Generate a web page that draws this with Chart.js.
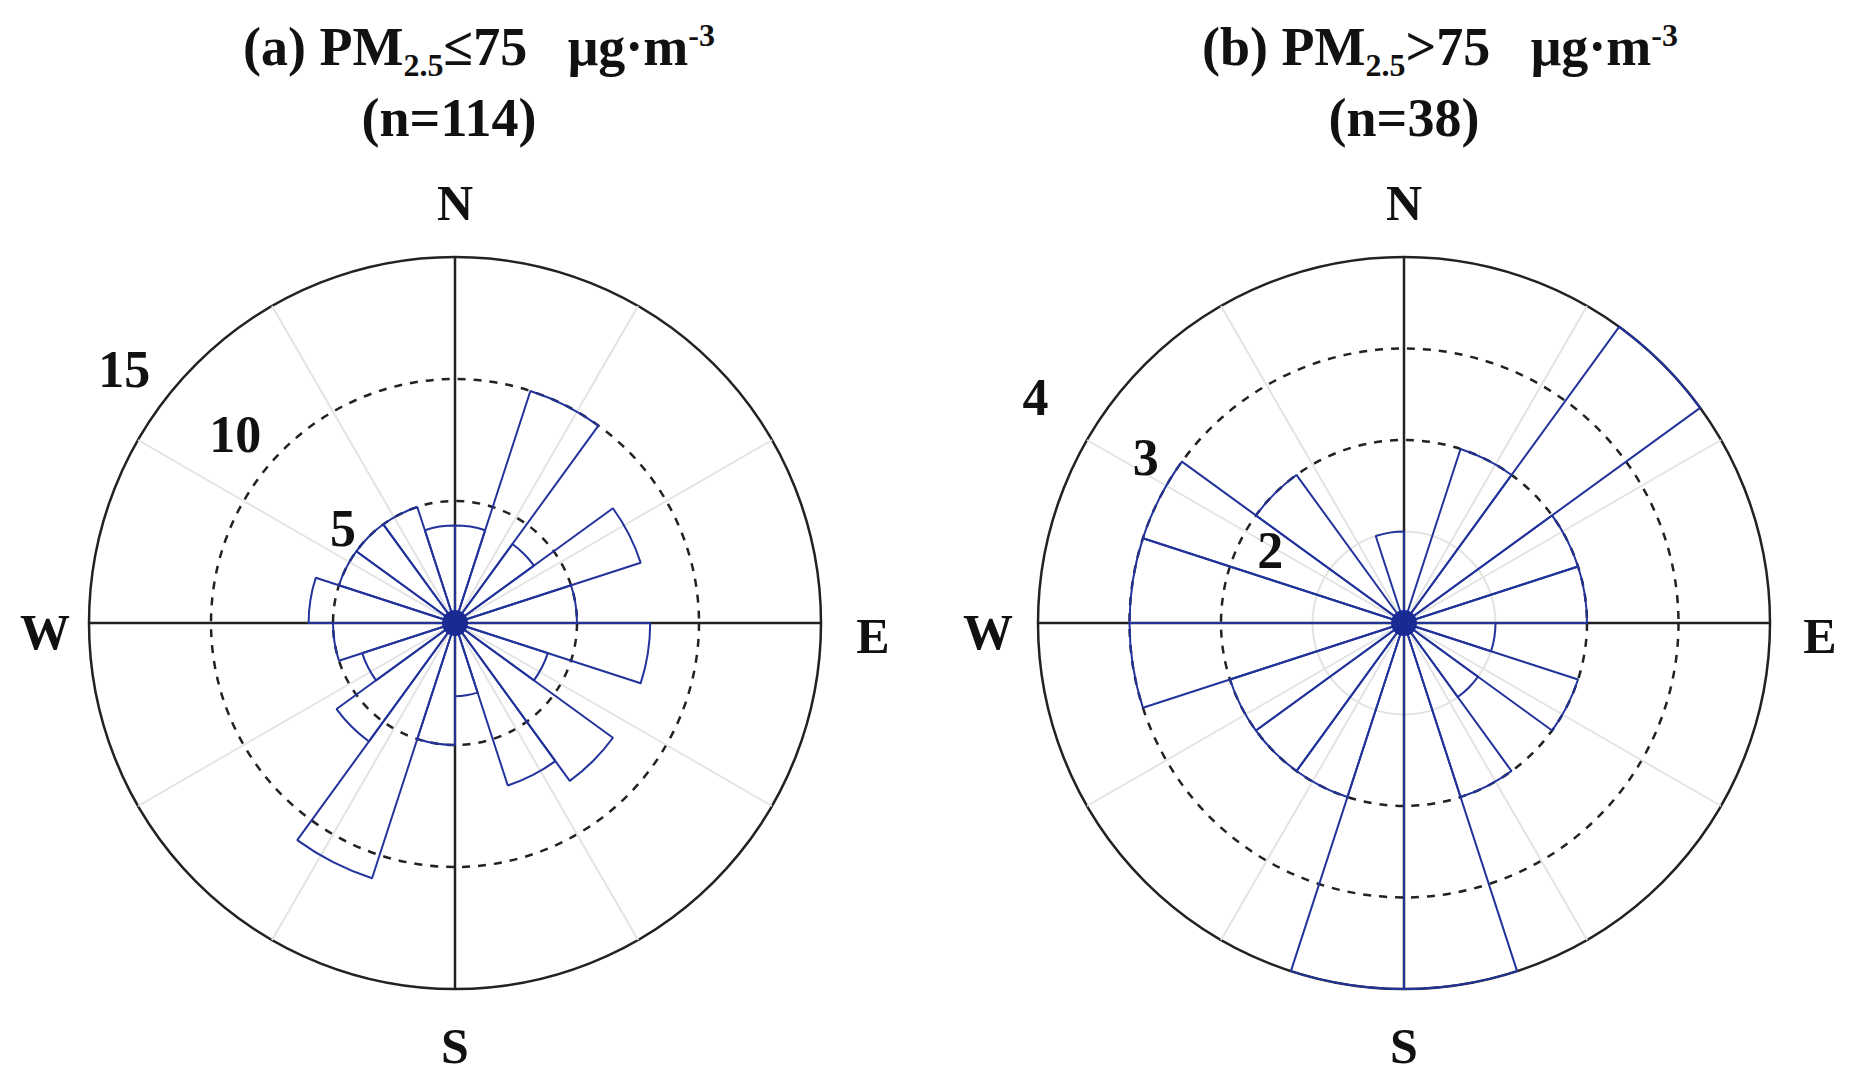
<!DOCTYPE html>
<html>
<head>
<meta charset="utf-8">
<script src="https://cdn.jsdelivr.net/npm/chart.js@4.4.0/dist/chart.umd.min.js"></script>
<style>
  body { margin: 0; background: #fff; width: 1853px; height: 1084px; position: relative; overflow: hidden;
         font-family: "Liberation Serif", "DejaVu Serif", serif; font-weight: bold; color: #111; }
  .box { position: absolute; width: 800px; height: 800px; }
  .t { position: absolute; font-size: 54px; white-space: nowrap; transform: translate(-50%, -50%); line-height: 1; }
  .c { position: absolute; font-size: 50px; transform: translate(-50%, -50%); line-height: 1; }
  sub { font-size: 32px; } sup { font-size: 32px; }
</style>
</head>
<body>
<div class="t" style="left:479px;top:50px">(a) PM<sub>2.5</sub>≤75 &nbsp;&nbsp;μg·m<sup>-3</sup></div>
<div class="t" style="left:449px;top:118px">(n=114)</div>
<div class="t" style="left:1440px;top:50px">(b) PM<sub>2.5</sub>&gt;75 &nbsp;&nbsp;μg·m<sup>-3</sup></div>
<div class="t" style="left:1404px;top:118px">(n=38)</div>

<div class="c" style="left:455px;top:203px">N</div>
<div class="c" style="left:455px;top:1046px">S</div>
<div class="c" style="left:45px;top:632px">W</div>
<div class="c" style="left:873px;top:636px">E</div>
<div class="c" style="left:1404px;top:203px">N</div>
<div class="c" style="left:1404px;top:1046px">S</div>
<div class="c" style="left:988px;top:632px">W</div>
<div class="c" style="left:1820px;top:636px">E</div>

<div class="box" style="left:55px;top:223px"><canvas id="chartA"></canvas></div>
<div class="box" style="left:1004px;top:223px"><canvas id="chartB"></canvas></div>

<script>
// 20 direction bins of 18 degrees, clockwise from north
var directions = ['0-18','18-36','36-54','54-72','72-90','90-108','108-126','126-144','144-162','162-180',
                  '180-198','198-216','216-234','234-252','252-270','270-288','288-306','306-324','324-342','342-360'];
var countsA = [4, 10, 4, 8, 5, 8, 4, 8, 7, 3, 5, 11, 6, 4, 5, 6, 5, 5, 5, 4];
var countsB = [0, 2, 4, 2, 2, 1, 2, 1, 2, 4, 4, 2, 2, 2, 3, 3, 3, 2, 0, 1];
var ticksA = [5, 10, 15];
var ticksB = [2, 3, 4];

var roseDeco = {
    id: 'roseDeco',
    beforeDatasetsDraw: function (chart) {
        var s = chart.scales.r, ctx = chart.ctx;
        var cx = s.xCenter, cy = s.yCenter, R = s.drawingArea;
        ctx.save();
        ctx.strokeStyle = '#e3e3e3';
        ctx.lineWidth = 2;
        for (var a = 30; a < 360; a += 30) {
            if (a % 90 === 0) continue;
            var rad = a * Math.PI / 180;
            ctx.beginPath();
            ctx.moveTo(cx, cy);
            ctx.lineTo(cx + R * Math.sin(rad), cy - R * Math.cos(rad));
            ctx.stroke();
        }
        ctx.strokeStyle = '#222';
        ctx.lineWidth = 2.5;
        ctx.beginPath();
        ctx.moveTo(cx - R, cy); ctx.lineTo(cx + R, cy);
        ctx.moveTo(cx, cy - R); ctx.lineTo(cx, cy + R);
        ctx.stroke();
        ctx.restore();
    },
    afterDatasetsDraw: function (chart) {
        var s = chart.scales.r, ctx = chart.ctx;
        var cx = s.xCenter, cy = s.yCenter;
        var o = chart.options.plugins.roseDeco;
        ctx.save();
        ctx.fillStyle = '#1a2a94';
        ctx.beginPath();
        ctx.arc(cx, cy, 13, 0, Math.PI * 2);
        ctx.fill();
        // radial tick labels, upper left
        ctx.fillStyle = '#111';
        ctx.font = 'bold 52px "Liberation Serif"';
        ctx.textAlign = 'center';
        ctx.textBaseline = 'middle';
        o.ticks.forEach(function (v, i) {
            var ang = o.angles[i] * Math.PI / 180;
            var r = s.getDistanceFromCenterForValue(v) + o.offsets[i];
            ctx.fillText(String(v), cx + r * Math.sin(ang), cy - r * Math.cos(ang));
        });
        ctx.restore();
    }
};

function makeRose(id, counts, max, step, ticks, faintIndex, angles, offsets) {
    return new Chart(document.getElementById(id), {
        type: 'polarArea',
        data: {
            labels: directions,
            datasets: [{
                data: counts,
                backgroundColor: 'rgba(255,255,255,0)',
                borderColor: '#22339c',
                borderWidth: 2,
                borderAlign: 'center'
            }]
        },
        options: {
            responsive: true,
            maintainAspectRatio: false,
            animation: false,
            layout: { padding: 34 },
            startAngle: 0,
            scales: {
                r: {
                    min: 0, max: max,
                    ticks: { display: false, stepSize: step },
                    angleLines: { display: false },
                    pointLabels: { display: false },
                    grid: {
                        color: function (c) { return c.index === faintIndex ? '#e3e3e3' : '#222'; },
                        lineWidth: function (c) { return c.index === faintIndex ? 2 : 2.5; }
                    },
                    border: {
                        dash: function (c) { return (c.index === faintIndex || c.tick && c.tick.value === max) ? [] : [8, 8]; }
                    }
                }
            },
            plugins: {
                legend: { display: false },
                tooltip: { enabled: false },
                roseDeco: { ticks: ticks, angles: angles, offsets: offsets }
            }
        },
        plugins: [roseDeco]
    });
}

makeRose('chartA', countsA, 15, 5, ticksA, -1, [309, 310, 307], [22, 43, 48]);
makeRose('chartB', countsB, 4, 1, ticksB, 1, [297, 302, 301], [-33, 30, 64]);
</script>
</body>
</html>
